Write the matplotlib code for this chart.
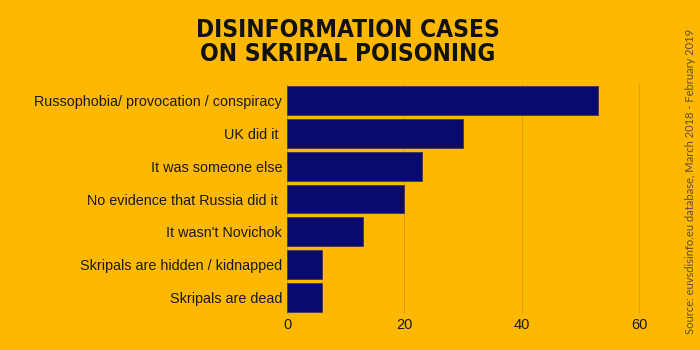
import matplotlib.pyplot as plt

# Disinformation narratives on the Skripal poisoning, case counts
categories = [
    'Russophobia/ provocation / conspiracy',
    'UK did it ',
    'It was someone else',
    'No evidence that Russia did it ',
    "It wasn't Novichok",
    'Skripals are hidden / kidnapped',
    'Skripals are dead',
]
cases = [53, 30, 23, 20, 13, 6, 6]
x_ticks = [0, 20, 40, 60]

bg = '#FFB800'
navy = '#0A0A6E'

fig = plt.figure(figsize=(7, 3.5), dpi=100, facecolor=bg)
ax = fig.add_axes([0.41, 0.1031, 0.52, 0.6566], facecolor=bg)

ax.barh(range(len(categories)), cases, height=0.88, color=navy,
        edgecolor='#3a3a5a', linewidth=0.6, zorder=3)
ax.set_ylim(len(categories) - 0.5, -0.5)
ax.set_xlim(0, 62)

lab_font = ['Liberation Sans', 'DejaVu Sans']
ax.set_yticks(range(len(categories)))
ax.set_yticklabels(categories, fontsize=10.4, family=lab_font, color='#1a1a1a')
ax.set_xticks(x_ticks)
ax.set_xticklabels([str(t) for t in x_ticks], fontsize=10.5,
                   family=lab_font, color='#1a1a1a')
ax.tick_params(length=0, pad=3)
ax.tick_params(axis='y', pad=3.5)

ax.grid(axis='x', color='#D9A000', linewidth=0.7, zorder=0)
for s in ax.spines.values():
    s.set_visible(False)

title_font = dict(fontsize=17.6, fontweight='heavy', fontstretch='condensed',
                  family=['DejaVu Sans'], color='#111111')
fig.text(0.497, 0.913, 'DISINFORMATION CASES', ha='center', va='center', **title_font)
fig.text(0.497, 0.847, 'ON SKRIPAL POISONING', ha='center', va='center', **title_font)

fig.text(0.986, 0.483, 'Source: euvsdisinfo.eu database, March 2018 - February 2019',
         rotation=90, ha='center', va='center', fontsize=8.0, family=['Lato', 'DejaVu Sans'],
         color='#5e5030')

fig.savefig('out.png', dpi=100, facecolor=bg)
